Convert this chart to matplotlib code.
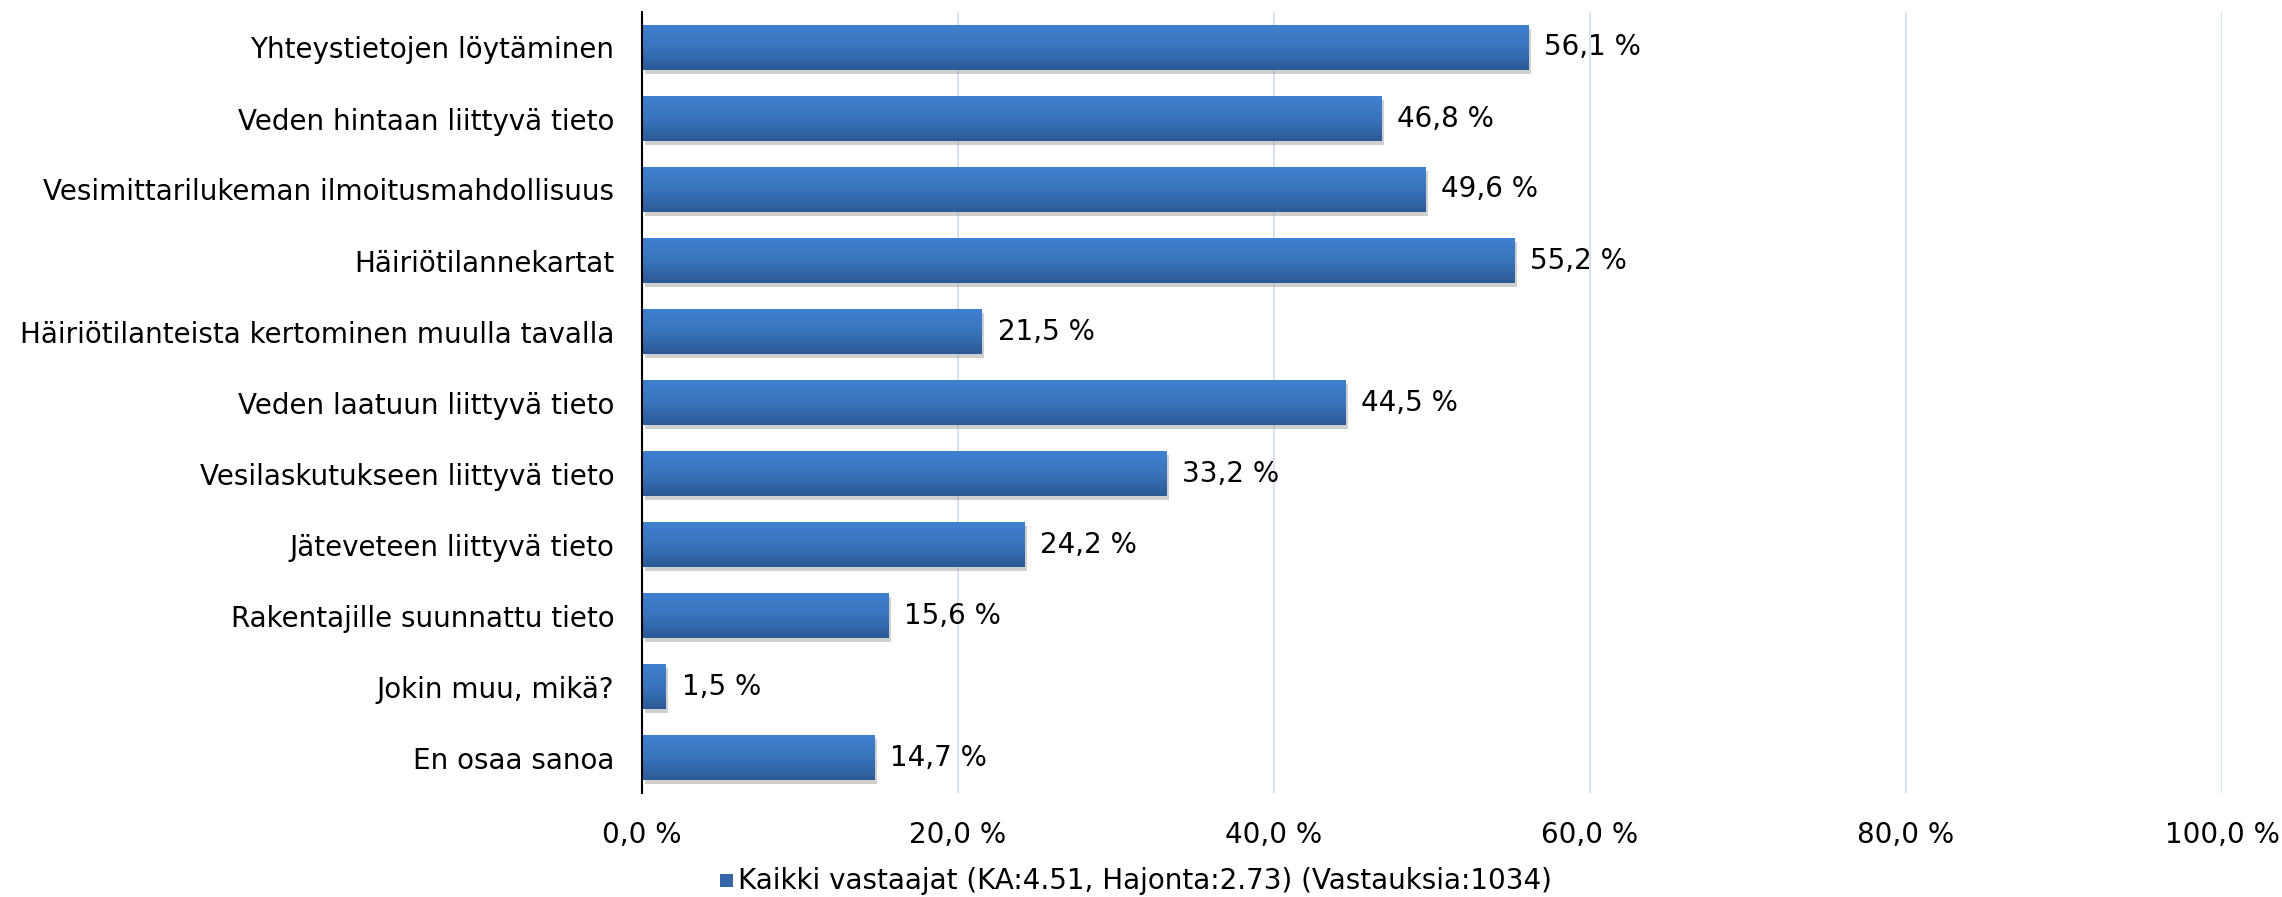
import numpy as np
import matplotlib.pyplot as plt
import matplotlib.patheffects as pe
from matplotlib.colors import LinearSegmentedColormap

categories = [
    "Yhteystietojen löytäminen",
    "Veden hintaan liittyvä tieto",
    "Vesimittarilukeman ilmoitusmahdollisuus",
    "Häiriötilannekartat",
    "Häiriötilanteista kertominen muulla tavalla",
    "Veden laatuun liittyvä tieto",
    "Vesilaskutukseen liittyvä tieto",
    "Jäteveteen liittyvä tieto",
    "Rakentajille suunnattu tieto",
    "Jokin muu, mikä?",
    "En osaa sanoa",
]
values = [56.1, 46.8, 49.6, 55.2, 21.5, 44.5, 33.2, 24.2, 15.6, 1.5, 14.7]
xticks = [0, 20, 40, 60, 80, 100]
legend_label = "Kaikki vastaajat (KA:4.51, Hajonta:2.73) (Vastauksia:1034)"

plt.rcParams['font.family'] = ['DejaVu Sans']
fs = 20

fig = plt.figure(figsize=(22.82, 8.97), dpi=100)
ax = fig.add_axes([642 / 2282, 1 - 793 / 897, 1580 / 2282, 781 / 897])

grad = LinearSegmentedColormap.from_list("bar", ["#2b5a96", "#3a74bd", "#3f80cf"])
y = np.arange(len(categories))
bars = ax.barh(y, values, height=0.63, color="#3a74bd", zorder=2,
               path_effects=[pe.SimplePatchShadow(offset=(2, -3), shadow_rgbFace="#8a8a8a", alpha=0.4),
                             pe.Normal()])

ramp = np.linspace(0, 1, 64).reshape(-1, 1)
for b in bars:
    x0, yb = b.get_x(), b.get_y()
    im = ax.imshow(ramp, cmap=grad, aspect="auto", origin="upper",
                   extent=(x0, x0 + b.get_width(), yb, yb + b.get_height()), zorder=3)
    im.set_clip_path(b)

for yi, v in zip(y, values):
    ax.text(v + 1.0, yi, f"{v:.1f} %".replace(".", ","), va="center", ha="left", fontsize=fs)

ax.set_xlim(0, 100)
ax.set_ylim(len(categories) - 0.5, -0.5)
ax.set_yticks(y)
ax.set_yticklabels(categories, fontsize=fs)
ax.set_xticks(xticks)
ax.set_xticklabels([f"{t:.1f} %".replace(".", ",") for t in xticks], fontsize=fs)
ax.tick_params(length=0, pad=20, axis="y")
ax.tick_params(length=0, pad=20, axis="x")
ax.grid(axis="x", color="#d9e3ef", linewidth=1.5, zorder=0)
for s in ["top", "right", "bottom"]:
    ax.spines[s].set_visible(False)
ax.spines["left"].set_linewidth(1.5)
ax.spines["left"].set_zorder(4)

# legend entry under the axis
fig.text(738 / 2282, 1 - 881 / 897, legend_label, fontsize=fs, va="center", ha="left")
fig.patches.append(plt.Rectangle((720 / 2282, 1 - 887 / 897), 13 / 2282, 13 / 897,
                                 transform=fig.transFigure, facecolor="#3566a8", edgecolor="none"))

fig.savefig("out.png", dpi=100)
